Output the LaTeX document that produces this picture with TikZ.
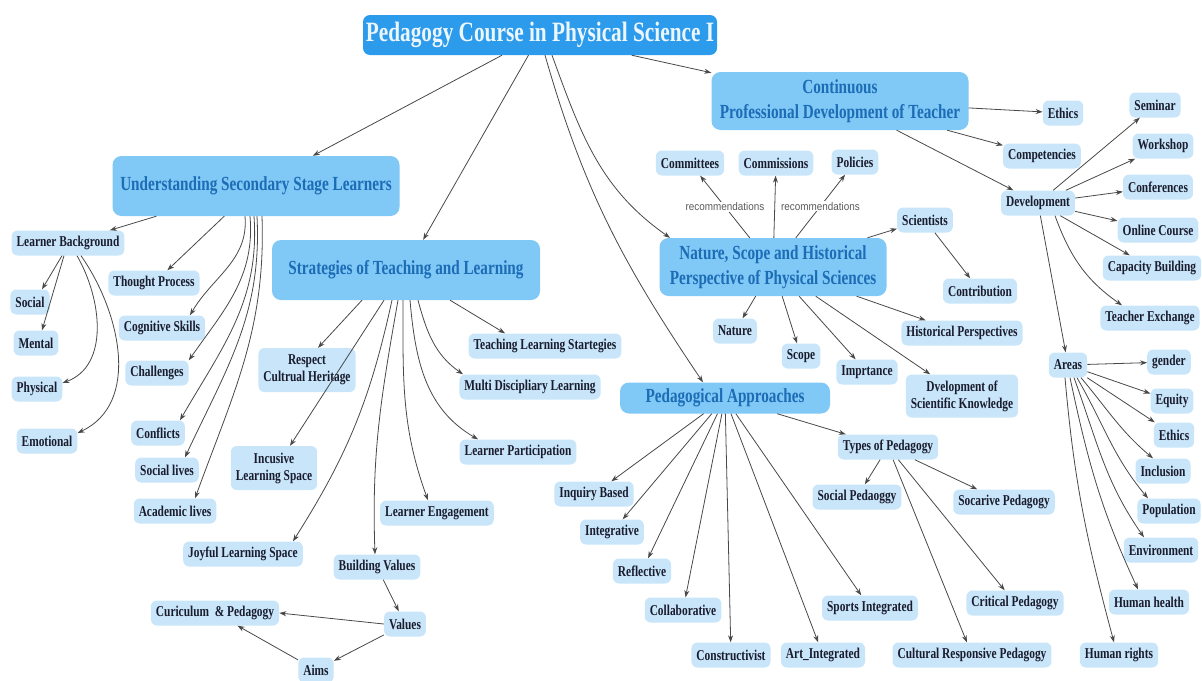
\documentclass[tikz,border=0pt]{standalone}
\usepackage{fontspec}
\setmainfont{Liberation Serif}
\newfontfamily\cond[FakeStretch=0.76]{Liberation Serif}
\newfontfamily\lblfont[FakeStretch=0.9]{Liberation Sans}
\usetikzlibrary{arrows.meta}
\definecolor{rootblue}{RGB}{45,155,235}
\definecolor{roottext}{RGB}{236,246,255}
\definecolor{midblue}{RGB}{128,200,246}
\definecolor{midtext}{RGB}{28,108,182}
\definecolor{leafblue}{RGB}{200,229,249}
\definecolor{leaftext}{RGB}{26,28,46}
\definecolor{linegray}{RGB}{72,72,72}
\definecolor{lblgray}{RGB}{90,90,90}
\begin{document}
\begin{tikzpicture}[x=1pt,y=1pt,
  rootbox/.style={rounded corners=7pt, fill=rootblue, text=roottext, font=\cond\bfseries\fontsize{28}{30}\selectfont, minimum width=354pt, minimum height=40pt, inner sep=0pt},
  mainbox/.style={rounded corners=9pt, fill=midblue, text=midtext, font=\cond\bfseries\fontsize{20}{25}\selectfont, align=center, inner sep=0pt},
  leaf/.style={rounded corners=6pt, fill=leafblue, text=leaftext, font=\cond\bfseries\fontsize{15}{17}\selectfont, align=center, inner xsep=5pt, inner ysep=3pt, minimum height=25pt},
  arr/.style={draw=linegray, line width=0.8pt, -{Stealth[length=7pt,width=5pt]}},
  lbl/.style={fill=white, text=lblgray, font=\lblfont\fontsize{11}{12}\selectfont, inner sep=1pt},
]
\useasboundingbox (0,0) rectangle (1202,-680);

% ---------- main nodes ----------
\node[rootbox] (root) at (540,-35) {Pedagogy Course in Physical Science I};
\node[mainbox, minimum width=287pt, minimum height=60pt] (usl) at (256,-186) {Understanding Secondary Stage Learners};
\node[mainbox, minimum width=268pt, minimum height=60pt] (str) at (406,-270) {Strategies of Teaching and Learning};
\node[mainbox, minimum width=257pt, minimum height=58pt] (cpd) at (840,-101) {Continuous\\Professional Development of Teacher};
\node[mainbox, minimum width=227pt, minimum height=58pt] (nat) at (773,-267) {Nature, Scope and Historical\\Perspective of Physical Sciences};
\node[mainbox, minimum width=210pt, minimum height=31pt] (ped) at (725,-398) {Pedagogical Approaches};

% ---------- learners ----------
\node[leaf] (lb) at (68,-243) {Learner Background};
\node[leaf] (soc) at (30,-302) {Social};
\node[leaf] (men) at (36,-343) {Mental};
\node[leaf] (phy) at (37,-389) {Physical};
\node[leaf] (emo) at (47,-441) {Emotional};
\node[leaf] (tp) at (154,-283) {Thought Process};
\node[leaf] (cs) at (162,-328) {Cognitive Skills};
\node[leaf] (chal) at (157,-373) {Challenges};
\node[leaf] (conf) at (158,-433) {Conflicts};
\node[leaf] (sl) at (167,-470) {Social lives};
\node[leaf] (al) at (175,-511) {Academic lives};

% ---------- strategies ----------
\node[leaf, minimum height=44pt] (resp) at (307,-370) {Respect\\Cultrual Heritage};
\node[leaf, minimum height=44pt] (inc) at (274,-468) {Incusive\\Learning Space};
\node[leaf] (joy) at (243,-554) {Joyful Learning Space};
\node[leaf] (tls) at (545,-346) {Teaching Learning Startegies};
\node[leaf] (md) at (530,-387) {Multi Discipliary Learning};
\node[leaf] (lp) at (518,-452) {Learner Participation};
\node[leaf] (le) at (437,-513) {Learner Engagement};
\node[leaf] (bv) at (377,-567) {Building Values};
\node[leaf] (val) at (405,-624) {Values};
\node[leaf] (cp) at (215,-613) {Curiculum~~\& Pedagogy};
\node[leaf] (aims) at (316,-670) {Aims};

% ---------- nature ----------
\node[leaf] (com) at (690,-163) {Committees};
\node[leaf] (comm) at (776,-163) {Commissions};
\node[leaf] (pol) at (855,-162) {Policies};
\node[leaf] (sci) at (925,-220) {Scientists};
\node[leaf] (contr) at (980,-291) {Contribution};
\node[leaf] (natl) at (735,-331) {Nature};
\node[leaf] (scope) at (801,-356) {Scope};
\node[leaf] (imp) at (867,-372) {Imprtance};
\node[leaf] (hp) at (962,-333) {Historical Perspectives};
\node[leaf, minimum height=43pt] (dsk) at (962,-396) {Dvelopment of\\Scientific Knowledge};

% ---------- pedagogical approaches ----------
\node[leaf] (inq) at (594,-494) {Inquiry Based};
\node[leaf] (integ) at (612,-532) {Integrative};
\node[leaf] (refl) at (642,-571) {Reflective};
\node[leaf] (coll) at (683,-610) {Collaborative};
\node[leaf] (cons) at (731,-655) {Constructivist};
\node[leaf] (art) at (823,-655) {Art\_Integrated};
\node[leaf] (sport) at (870,-608) {Sports Integrated};
\node[leaf] (types) at (888,-447) {Types of Pedagogy};
\node[leaf] (socp) at (857,-497) {Social Pedaoggy};
\node[leaf] (socr) at (1004,-502) {Socarive Pedagogy};
\node[leaf] (crit) at (1015,-603) {Critical Pedagogy};
\node[leaf] (crp) at (972,-655) {Cultural Responsive Pedagogy};

% ---------- continuous development ----------
\node[leaf] (eth) at (1063,-113) {Ethics};
\node[leaf] (compt) at (1042,-156) {Competencies};
\node[leaf] (dev) at (1038,-203) {Development};
\node[leaf] (sem) at (1155,-105) {Seminar};
\node[leaf] (work) at (1163,-146) {Workshop};
\node[leaf] (confr) at (1158,-187) {Conferences};
\node[leaf] (onl) at (1158,-230) {Online Course};
\node[leaf] (cap) at (1152,-268) {Capacity Building};
\node[leaf] (te) at (1150,-318) {Teacher Exchange};
\node[leaf] (areas) at (1068,-365) {Areas};
\node[leaf] (gen) at (1169,-362) {gender};
\node[leaf] (equ) at (1172,-401) {Equity};
\node[leaf] (eth2) at (1174,-435) {Ethics};
\node[leaf] (incl) at (1163,-471) {Inclusion};
\node[leaf] (pop) at (1169,-511) {Population};
\node[leaf] (env) at (1161,-550) {Environment};
\node[leaf] (hh) at (1149,-602) {Human health};
\node[leaf] (hr) at (1119,-655) {Human rights};

% ---------- connectors: root ----------
\draw[arr] (root) -- (usl);
\draw[arr] (root) -- (str);
\draw[arr] ([xshift=12pt]root.south) to[out=-70,in=145] ([xshift=-103pt]nat.north);
\draw[arr] ([xshift=5pt]root.south) to[out=-74,in=124] ([xshift=-22pt]ped.north);
\draw[arr] (root) -- (cpd);

% ---------- learners ----------
\draw[arr] (usl) -- (lb);
\draw[arr] (usl) -- (tp);
\draw[arr] ([xshift=-11pt]usl.south) to[out=-85,in=60] ([xshift=28pt]cs.north);
\draw[arr] ([xshift=-6pt]usl.south) to[out=-85,in=55] (chal.north east);
\draw[arr] ([xshift=-2pt]usl.south) to[out=-86,in=60] ([xshift=22pt]conf.north);
\draw[arr] ([xshift=1pt]usl.south) to[out=-87,in=65] ([xshift=18pt]sl.north);
\draw[arr] ([xshift=6pt]usl.south) to[out=-88,in=70] ([xshift=20pt]al.north);
\draw[arr] ([xshift=-6pt]lb.south) -- ([xshift=12pt]soc.north);
\draw[arr] ([xshift=-4pt]lb.south) -- ([xshift=6pt]men.north);
\draw[arr] ([xshift=9pt]lb.south) to[out=-60,in=20] ([yshift=6pt]phy.east);
\draw[arr] ([xshift=13pt]lb.south) to[out=-55,in=25] ([yshift=8pt]emo.east);

% ---------- strategies ----------
\draw[arr] ([xshift=-44pt]str.south) -- ([xshift=11pt]resp.north);
\draw[arr] ([xshift=-22pt]str.south) -- ([xshift=16pt]inc.north);
\draw[arr] ([xshift=-14pt]str.south) to[bend left=10] ([xshift=50pt]joy.north);
\draw[arr] ([xshift=-8pt]str.south) to[out=-100,in=92] ([xshift=-2pt]bv.north);
\draw[arr] ([xshift=-3pt]str.south) to[out=-90,in=110] ([xshift=-9pt]le.north);
\draw[arr] ([xshift=4pt]str.south) to[out=-85,in=150] ([xshift=-40pt]lp.north);
\draw[arr] ([xshift=12pt]str.south) to[out=-75,in=145] ([xshift=-67pt]md.north);
\draw[arr] ([xshift=44pt]str.south) -- ([xshift=-40pt]tls.north);
\draw[arr] (bv) -- (val);
\draw[arr] (val.west) -- (cp.east);
\draw[arr] (val) -- (aims);
\draw[arr] (aims) -- (cp);

% ---------- nature ----------
\draw[arr] (nat) -- node[lbl] {recommendations} (com);
\draw[arr] (nat) -- (comm);
\draw[arr] (nat) -- node[lbl] {recommendations} (pol);
\draw[arr] (nat) -- (sci);
\draw[arr] (sci) -- (contr);
\draw[arr] (nat) -- (natl);
\draw[arr] (nat) -- (scope);
\draw[arr] (nat) -- (imp);
\draw[arr] (nat) -- (dsk);
\draw[arr] (nat) -- (hp);

% ---------- pedagogical approaches ----------
\draw[arr] (ped) -- (inq);
\draw[arr] (ped) -- (integ);
\draw[arr] (ped) -- (refl);
\draw[arr] (ped) -- (coll);
\draw[arr] (ped) -- (cons);
\draw[arr] (ped) -- (art);
\draw[arr] (ped) -- (sport);
\draw[arr] (ped) -- (types);
\draw[arr] (types) -- (socp);
\draw[arr] (types) -- (socr);
\draw[arr] (types) -- (crit);
\draw[arr] (types) -- (crp);

% ---------- continuous development ----------
\draw[arr] (cpd) -- (eth);
\draw[arr] (cpd) -- (compt);
\draw[arr] (cpd) -- (dev);
\draw[arr] (dev) -- (sem);
\draw[arr] (dev) -- (work);
\draw[arr] (dev) -- (confr);
\draw[arr] (dev) -- (onl);
\draw[arr] (dev) -- (cap);
\draw[arr] ([xshift=17pt]dev.south) to[out=-70,in=145] ([xshift=-28pt]te.north);
\draw[arr] (dev) -- (areas);
\draw[arr] (areas) -- (gen);
\draw[arr] (areas) -- (equ);
\draw[arr] (areas) -- (eth2);
\draw[arr] ([xshift=13pt]areas.south) to[out=-50,in=140] ([xshift=-10pt]incl.north);
\draw[arr] ([xshift=9pt]areas.south) to[out=-60,in=130] ([xshift=-21pt]pop.north);
\draw[arr] ([xshift=6pt]areas.south) to[out=-70,in=125] ([xshift=-17pt]env.north);
\draw[arr] ([xshift=2pt]areas.south) to[out=-78,in=115] ([xshift=-11pt]hh.north);
\draw[arr] ([xshift=-3pt]areas.south) to[out=-85,in=105] ([xshift=-5pt]hr.north);
\end{tikzpicture}
\end{document}
